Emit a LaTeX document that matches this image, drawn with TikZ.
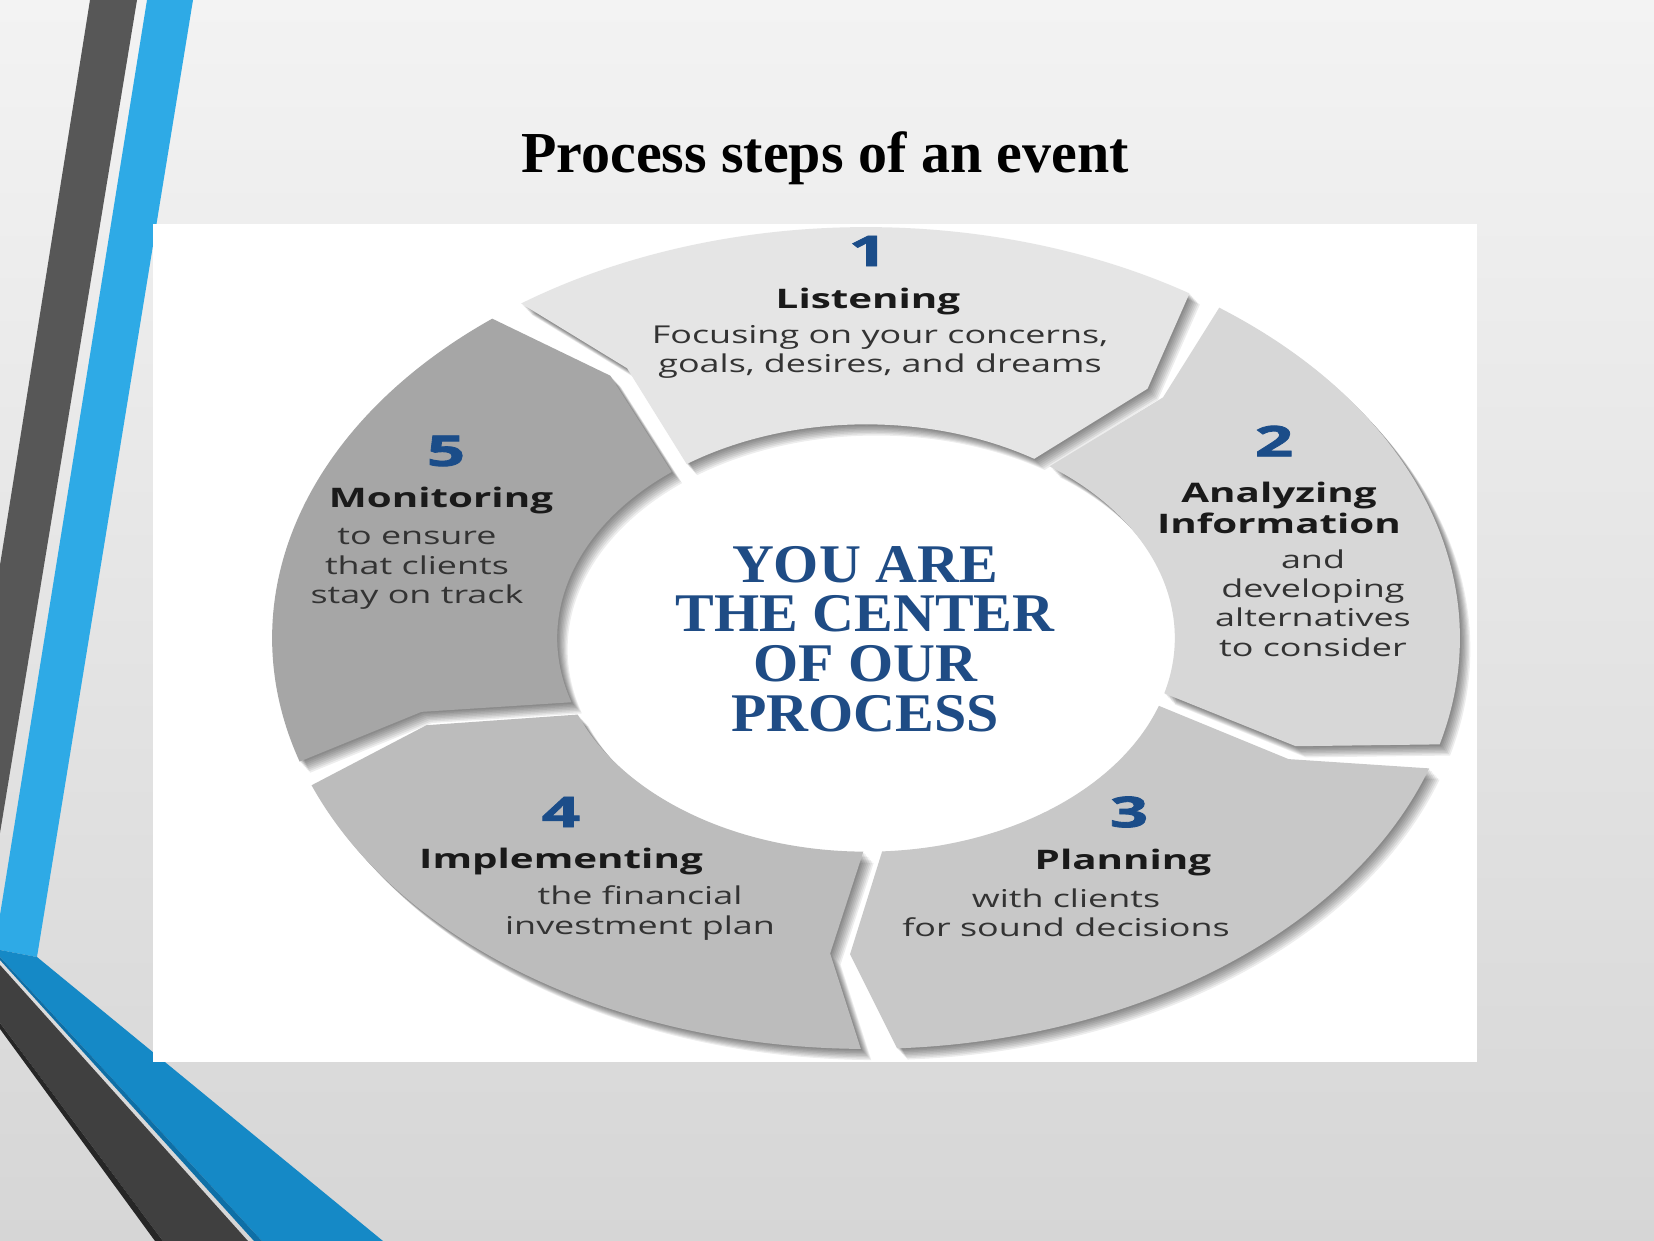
\documentclass[tikz,border=0pt]{standalone}
\usepackage{fontspec}
\setmainfont{Liberation Serif}
\newfontfamily\segfont[FakeStretch=1.46]{Open Sans}
\newfontfamily\headfont[FakeStretch=1.5]{Open Sans}
\newfontfamily\numfont[FakeStretch=1.6,FakeBold=2]{Open Sans}
\lineskiplimit=-40pt\relax
\lineskip=0pt\relax
\definecolor{bgtop}{HTML}{F3F3F3}
\definecolor{bgbot}{HTML}{D6D6D6}
\definecolor{stripedark}{HTML}{575757}
\definecolor{stripeblue}{HTML}{2EAAE6}
\definecolor{diagblue}{HTML}{1589C6}
\definecolor{diagbluedeep}{HTML}{0E6FA6}
\definecolor{diagdark}{HTML}{404040}
\definecolor{segA}{HTML}{E5E5E5}
\definecolor{segB}{HTML}{D7D7D7}
\definecolor{segC}{HTML}{C8C8C8}
\definecolor{segD}{HTML}{BCBCBC}
\definecolor{segE}{HTML}{A6A6A6}
\definecolor{numblue}{HTML}{1B4D89}
\definecolor{centerblue}{HTML}{1F4C85}
\definecolor{bodytext}{HTML}{333333}
\definecolor{boldtext}{HTML}{1A1A1A}
\tikzset{
  numlabel/.style={font=\numfont\bfseries\fontsize{24}{24}\selectfont, text=numblue, inner sep=0pt},
  headlabel/.style={font=\headfont\bfseries\fontsize{15.3}{17.5}\selectfont, text=boldtext, inner sep=0pt, align=center},
  desclabel/.style={font=\segfont\fontsize{14}{16.7}\selectfont, text=bodytext, inner sep=0pt, align=center},
  centerlabel/.style={font=\bfseries\fontsize{31}{28.3}\selectfont, text=centerblue, inner sep=0pt, align=center, xscale=1.065},
  titlelabel/.style={font=\bfseries\fontsize{33}{33}\selectfont, text=black, inner sep=0pt}
}
\def\ir{0.52}
\def\mr{0.77}
\newcommand\segcalc[1]{%
  \pgfmathsetmacro\sA{#1+36-0.5}%
  \pgfmathsetmacro\sa{#1+36-4.5}%
  \pgfmathsetmacro\sB{#1-36+3}%
  \pgfmathsetmacro\sb{#1-36-2}}
\def\segp{({cos(\sA)},{sin(\sA)}) arc[start angle=\sA, end angle=\sB, x radius=11.88cm, y radius=8.22cm] -- ({\mr*cos(\sb)},{\mr*sin(\sb)}) -- ({\ir*cos(\sB)},{\ir*sin(\sB)}) arc[start angle=\sB, end angle=\sA, x radius=6.178cm, y radius=4.274cm] -- ({\mr*cos(\sa)},{\mr*sin(\sa)}) -- cycle}
\begin{document}
\begin{tikzpicture}[x=0.02cm,y=-0.02cm]
\useasboundingbox (0,0) rectangle (1654,1241);
\shade[top color=bgtop, bottom color=bgbot] (0,0) rectangle (1654,1241);
% left decoration
\fill[stripedark] (90,0) -- (137,0) -- (0,833) -- (0,565) -- cycle;
\fill[stripeblue] (147,0) -- (193,0) -- (37,957) -- (0,950) -- (0,915) -- cycle;
\fill[diagblue] (0,950) -- (37,957) -- (383,1241) -- (262,1241) -- (0,957) -- cycle;
\fill[diagbluedeep] (0,957) -- (262,1241) -- (254,1241) -- (0,960) -- cycle;
\fill[diagdark] (0,965) -- (248,1241) -- (163,1241) -- (0,1023) -- cycle;
\fill[black!85] (0,1023) -- (163,1241) -- (155,1241) -- (0,1029) -- cycle;
% picture area
\fill[white] (153,224) rectangle (1477,1062);
% title
\node[titlelabel] (title) at (825,158) {Process steps of an event};
% ring
\begin{scope}[shift={(866,638)}, x=11.88cm, y=8.22cm]
  \foreach \c in {90,18,-54,-126,162}{
    \segcalc{\c}
    \foreach \k in {1,...,8}{
      \fill[black, opacity=0.07, shift={(\k*0.0022,-\k*0.0034)}] \segp;
    }
  }
  \foreach \c/\col in {90/segA,18/segB,-54/segC,-126/segD,162/segE}{
    \segcalc{\c}
    \fill[\col] \segp;
  }
\end{scope}
% segment texts
\node[numlabel] (n1) at (868,251) {1};
\node[headlabel] (h1) at (868,302) {Listening};
\node[desclabel] (d1) at (880,352) {Focusing on your concerns,\\goals, desires, and dreams};
\node[numlabel] (n2) at (1274,441) {2};
\node[headlabel] (h2) at (1279,508) {Analyzing\\Information};
\node[desclabel] (d2) at (1313,603) {and\\developing\\alternatives\\to consider};
\node[numlabel] (n3) at (1129,812) {3};
\node[headlabel] (h3) at (1123,863) {Planning};
\node[desclabel] (d3) at (1066,913) {with clients\\for sound decisions};
\node[numlabel] (n4) at (561,812) {4};
\node[headlabel] (h4) at (561,862) {Implementing};
\node[desclabel] (d4) at (640,913) {the financial\\investment plan};
\node[numlabel] (n5) at (446,451) {5};
\node[headlabel] (h5) at (441,501) {Monitoring};
\node[desclabel] (d5) at (417,569) {to ensure\\that clients\\stay on track};
% center
\node[centerlabel] (ctr) at (865,639) {YOU ARE\\THE CENTER\\OF OUR\\PROCESS};
\end{tikzpicture}
\end{document}
